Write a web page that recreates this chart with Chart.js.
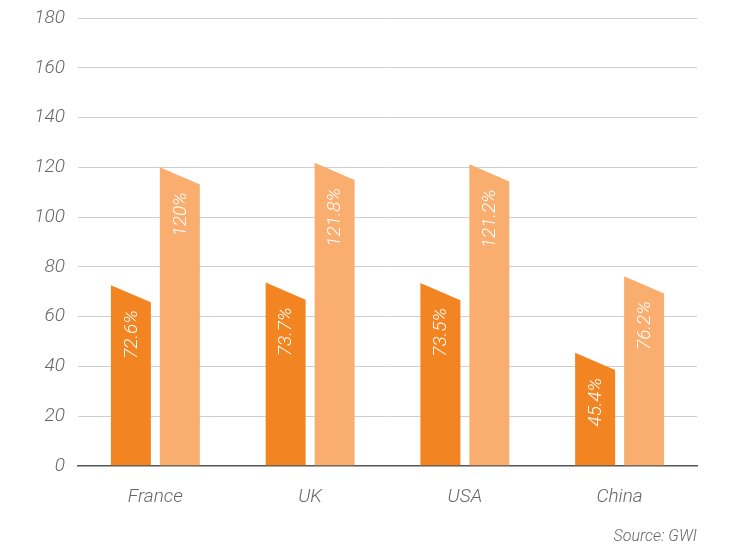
<!DOCTYPE html>
<html lang="en">

<head>
    <meta charset="UTF-8">
    <script src="https://cdn.jsdelivr.net/npm/chart.js"></script>
    <title>GWI comparison</title>
    <style>
        body { margin: 0; background: #fff; }
    </style>
</head>

<body>
    <canvas id="myChart" width="731" height="548"></canvas>
    <script>
        // Data
        const countries = ['France', 'UK', 'USA', 'China'];
        const seriesDark = [72.6, 73.7, 73.5, 45.4];
        const seriesLight = [120, 121.8, 121.2, 76.2];
        const yTicks = [0, 20, 40, 60, 80, 100, 120, 140, 160, 180];

        const DARK = '#f38422';
        const LIGHT = '#f9ae6f';
        const FONT = 'Roboto';

        // draw slanted bars + rotated labels from the bar elements
        const slantBars = {
            id: 'slantBars',
            afterDatasetsDraw(chart) {
                const ctx = chart.ctx;
                chart.data.datasets.forEach((ds, i) => {
                    const meta = chart.getDatasetMeta(i);
                    meta.data.forEach((bar, j) => {
                        const left = bar.x - bar.width / 2;
                        const right = bar.x + bar.width / 2;
                        const drop = bar.width * 0.43;
                        ctx.save();
                        ctx.fillStyle = ds.fillColor;
                        ctx.beginPath();
                        ctx.moveTo(left, bar.base);
                        ctx.lineTo(left, bar.y);
                        ctx.lineTo(right, bar.y + drop);
                        ctx.lineTo(right, bar.base);
                        ctx.closePath();
                        ctx.fill();

                        ctx.translate(bar.x, bar.y + 25);
                        ctx.rotate(-Math.PI / 2);
                        ctx.fillStyle = '#fff';
                        ctx.font = 'italic 300 19px ' + FONT;
                        ctx.textAlign = 'right';
                        ctx.textBaseline = 'middle';
                        ctx.fillText(ds.data[j] + '%', 0, 1);
                        ctx.restore();
                    });
                });
            }
        };

        const chartConfig = {
            type: 'bar',
            data: {
                labels: countries,
                datasets: [
                    {
                        data: seriesDark,
                        fillColor: DARK,
                        backgroundColor: 'rgba(0,0,0,0)',
                    },
                    {
                        data: seriesLight,
                        fillColor: LIGHT,
                        backgroundColor: 'rgba(0,0,0,0)',
                    },
                ],
            },
            options: {
                responsive: false,
                animation: false,
                categoryPercentage: 0.633,
                barPercentage: 0.816,
                layout: { padding: { top: 18, right: 34, left: 0, bottom: 1 } },
                plugins: {
                    legend: { display: false },
                    tooltip: { enabled: false },
                    title: {
                        display: true,
                        text: 'Source: GWI',
                        position: 'bottom',
                        align: 'end',
                        color: '#666',
                        font: { family: FONT, size: 16, style: 'italic', weight: 300 },
                        padding: { top: 5, bottom: 0 },
                    },
                },
                scales: {
                    x: {
                        grid: { display: false },
                        border: { color: '#555', width: 1.5 },
                        afterFit: (scale) => { scale.height = 57; },
                        ticks: {
                            color: '#666',
                            padding: 12,
                            font: { family: FONT, size: 19, style: 'italic', weight: 300 },
                        },
                    },
                    y: {
                        min: 0,
                        max: 180,
                        afterBuildTicks: (scale) => {
                            scale.ticks = yTicks.map(v => ({ value: v }));
                        },
                        afterFit: (scale) => {
                            scale.width = 78;
                            scale.paddingTop = 0;
                            scale.paddingBottom = 0;
                        },
                        border: { display: false },
                        grid: {
                            drawTicks: false,
                            color: (c) => c.tick && c.tick.value === 0 ? '#555' : '#cfcfcf',
                            lineWidth: 1,
                        },
                        ticks: {
                            color: '#666',
                            padding: 13,
                            font: { family: FONT, size: 19, style: 'italic', weight: 300 },
                        },
                    },
                },
            },
            plugins: [slantBars],
        };

        const ctx = document.getElementById('myChart').getContext('2d');
        const myChart = new Chart(ctx, chartConfig);
    </script>
</body>

</html>
